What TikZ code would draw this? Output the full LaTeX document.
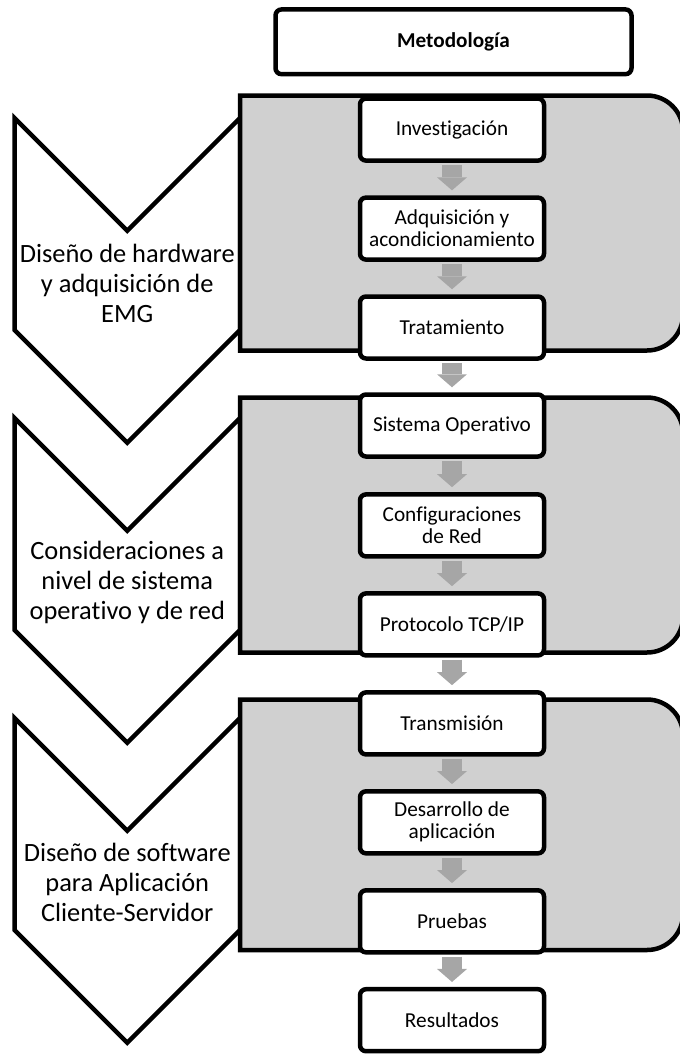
\documentclass[tikz,border=0pt]{standalone}
\usepackage{fontspec}
\setmainfont{Carlito}[Ligatures=NoCommon]
\usetikzlibrary{arrows.meta,calc}
\definecolor{panelgray}{RGB}{208,208,208}
\definecolor{arrowgray}{RGB}{166,166,166}

% chevron of a phase, given the height of its upper corners
\newcommand\chevronpath[1]{%
  \draw[chevron] (14.5,#1) -- (127.25,#1+112.75) -- (240,#1) -- (240,#1+212)
    -- (127.25,#1+324.75) -- (14.5,#1+212) -- cycle;}
% grey band with rounded right corners, from top #1 to bottom #2
\newcommand\panelpath[2]{%
  \draw[panel] (240,#1) -- (647,#1) .. controls (666.9,#1) and (683,#1+16.1) .. (683,#1+36)
    -- (683,#2-36) .. controls (683,#2-16.1) and (666.9,#2) .. (647,#2) -- (240,#2) -- cycle;}

\begin{document}
\begin{tikzpicture}[x=1pt,y=-1pt,
  stepbox/.style={draw=black,line width=4.5pt,fill=white,rounded corners=6pt,
    minimum width=184pt,minimum height=62pt,inner sep=0pt,align=center,
    font=\fontsize{21.3pt}{22pt}\selectfont},
  titlebox/.style={stepbox,minimum width=356pt,minimum height=64.7pt,
    font=\fontsize{21.2pt}{22pt}\selectfont\bfseries},
  chevron/.style={draw=black,line width=4.5pt,fill=white,line join=miter,miter limit=10},
  panel/.style={draw=black,line width=4.5pt,fill=panelgray},
  phase/.style={align=center,inner sep=0pt,font=\fontsize{26.4pt}{30pt}\selectfont},
  flow/.style={draw=arrowgray,line width=20pt,
    -{Triangle[width=30pt,length=13pt,line width=0pt]}}]
\useasboundingbox (0,0) rectangle (680,1055);

% phases on the left
\chevronpath{118}
\chevronpath{418}
\chevronpath{718}
\node[phase] (ph1) at (127.25,283) {Diseño de hardware\\y adquisición de\\EMG};
\node[phase] (ph2) at (127.25,582) {Consideraciones a\\nivel de sistema\\operativo y de red};
\node[phase] (ph3) at (127.25,882) {Diseño de software\\para Aplicación\\Cliente-Servidor};

% grey bands holding the steps
\panelpath{95.5}{350.5}
\panelpath{397.5}{652.5}
\panelpath{699.5}{950}

% title and steps
\node[titlebox] (meth) at (453.5,41.8) {Metodología};
\node[stepbox] (inv) at (452,129.6) {Investigación};
\node[stepbox] (adq) at (452,228.6) {Adquisición y\\acondicionamiento};
\node[stepbox] (tra) at (452,327.5) {Tratamiento};
\node[stepbox] (sis) at (452,425.5) {Sistema Operativo};
\node[stepbox] (con) at (452,525.4) {Configuraciones\\de Red};
\node[stepbox] (pro) at (452,624.4) {Protocolo TCP/IP};
\node[stepbox] (tx)  at (452,723.4) {Transmisión};
\node[stepbox] (des) at (452,822.3) {Desarrollo de\\aplicación};
\node[stepbox] (pru) at (452,921.3) {Pruebas};
\node[stepbox] (res) at (452,1020.2) {Resultados};

% block arrows between consecutive steps
\foreach \a/\b in {inv/adq,adq/tra,tra/sis,sis/con,con/pro,pro/tx,tx/des,des/pru,pru/res}
  \draw[flow] ($(\a.south)+(0,2)$) -- ($(\b.north)+(0,-5)$);
\end{tikzpicture}
\end{document}
